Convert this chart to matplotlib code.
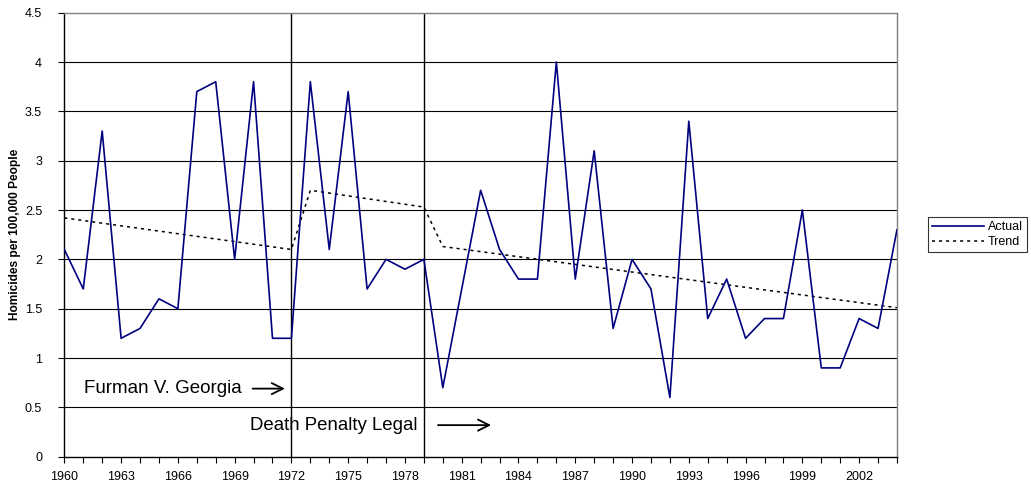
import matplotlib
matplotlib.use("Agg")
import matplotlib.pyplot as plt

plt.rcParams['font.family'] = ['Liberation Sans', 'DejaVu Sans']

years = list(range(1960, 2005))
actual = [2.1, 1.7, 3.3, 1.2, 1.3, 1.6, 1.5, 3.7, 3.8, 2.0,
          3.8, 1.2, 1.2, 3.8, 2.1, 3.7, 1.7, 2.0, 1.9, 2.0,
          0.7, 1.7, 2.7, 2.1, 1.8, 1.8, 4.0, 1.8, 3.1, 1.3,
          2.0, 1.7, 0.6, 3.4, 1.4, 1.8, 1.2, 1.4, 1.4, 2.5,
          0.9, 0.9, 1.4, 1.3, 2.3]

# trend is piecewise straight, so only the segment ends are kept
trend_years = [1960, 1972, 1973, 1979, 1980, 2004]
trend_values = [2.42, 2.10, 2.70, 2.53, 2.13, 1.51]

event_years = [1972, 1979]
tick_years = list(range(1960, 2003, 3))
yticks = [0, 0.5, 1, 1.5, 2, 2.5, 3, 3.5, 4, 4.5]

fig = plt.figure(figsize=(10.31, 4.87), dpi=100)
ax = fig.add_axes([0.0624, 0.0622, 0.8076, 0.9118])

for y in yticks[1:-1]:
    ax.axhline(y, color='black', lw=0.8, zorder=1)
for yr in event_years:
    ax.axvline(yr, color='black', lw=1.0, zorder=1)

ax.plot(years, actual, color='#000080', lw=1.2, label='Actual', zorder=3)
ax.plot(trend_years, trend_values, color='black', lw=1.1,
        linestyle=(0, (2, 2.6)), label='Trend', zorder=2)

ax.set_xlim(1960, 2004)
ax.set_ylim(0, 4.5)
ax.set_xticks(tick_years)
ax.set_xticklabels([str(t) for t in tick_years])
ax.set_xticks(years, minor=True)
ax.set_yticks(yticks)
ax.set_yticklabels(['0', '0.5', '1', '1.5', '2', '2.5', '3', '3.5', '4', '4.5'])
ax.tick_params(axis='x', which='both', direction='out', length=4, width=0.8,
               labelsize=9, pad=6)
ax.tick_params(axis='y', direction='out', length=4, width=0.8,
               labelsize=9, pad=12)

for side in ['top', 'right']:
    ax.spines[side].set_color('#808080')
for side in ['left', 'bottom']:
    ax.spines[side].set_color('black')
for s in ax.spines.values():
    s.set_linewidth(1.0)

fig.text(0.0145, 0.518, 'Homicides per 100,000 People', fontsize=8.6,
         fontweight='bold', rotation=90, ha='center', va='center')

ax.text(1961.05, 0.69, 'Furman V. Georgia', fontsize=13.5, va='center', ha='left')
ax.annotate('', xy=(1971.8, 0.69), xytext=(1969.8, 0.69),
            arrowprops=dict(arrowstyle='->', color='black', lw=1.3,
                            mutation_scale=20))
ax.text(1969.8, 0.32, 'Death Penalty Legal', fontsize=13.4, va='center', ha='left')
ax.annotate('', xy=(1982.7, 0.32), xytext=(1979.6, 0.32),
            arrowprops=dict(arrowstyle='->', color='black', lw=1.3,
                            mutation_scale=20))

leg = ax.legend(loc='center left', bbox_to_anchor=(0.9, 0.518),
                bbox_transform=fig.transFigure, fontsize=9, frameon=True,
                fancybox=False, handlelength=4.2, handletextpad=0.3,
                borderpad=0.3, labelspacing=0.25, borderaxespad=0)
leg.get_frame().set_edgecolor('black')
leg.get_frame().set_linewidth(0.8)

fig.savefig('out.png', dpi=100)
